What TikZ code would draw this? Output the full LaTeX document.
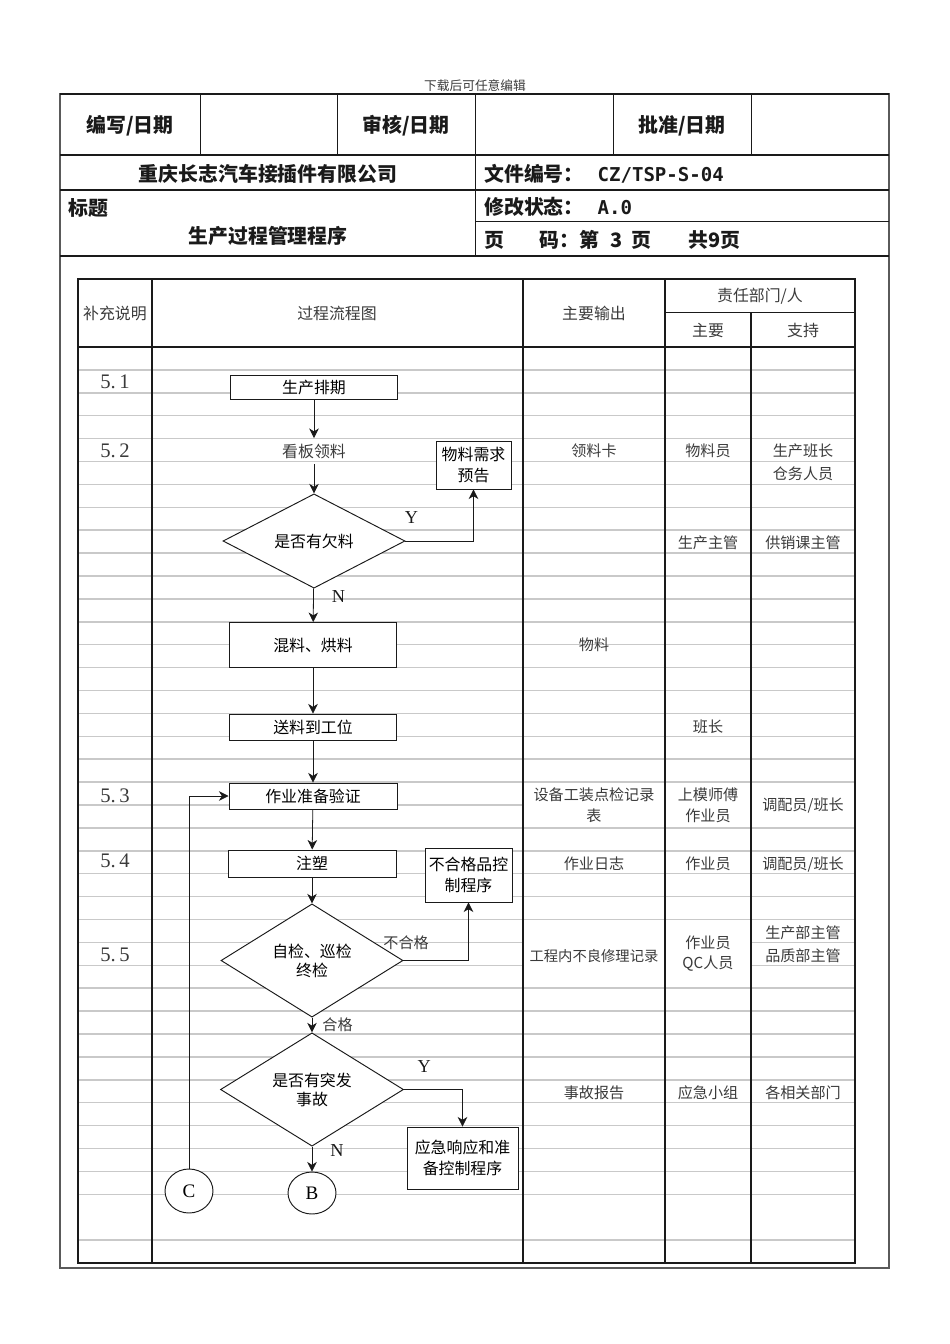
\documentclass[tikz,border=0pt]{standalone}
\usepackage{fontspec}
\usepackage{tikz}
\usetikzlibrary{shapes.geometric, arrows.meta, positioning}
\setmainfont{Liberation Serif}
\newfontfamily\cjk{Noto Sans CJK SC}
\newfontfamily\codefont{DejaVu Sans Mono}
\definecolor{darkink}{HTML}{1A1A1A}
\definecolor{softink}{HTML}{3A3A3A}
\definecolor{rowline}{HTML}{C9C9C9}
\definecolor{frameink}{HTML}{5A5A5A}
\newcommand{\pu}{0.02211cm}
\tikzset{
  headtext/.style={font=\cjk\bfseries\fontsize{12.5}{15}\selectfont, text=darkink},
  colhead/.style={font=\cjk\fontsize{10}{13}\selectfont, text=softink},
  cellnote/.style={font=\cjk\fontsize{9.5}{13}\selectfont, text=softink, align=center},
  secnum/.style={font=\fontsize{13}{15}\selectfont, text=softink},
  procbox/.style={draw=darkink, line width=0.6pt, fill=white, align=center,
    font=\cjk\fontsize{10}{13}\selectfont, inner sep=1pt},
  decision/.style={diamond, draw=darkink, line width=0.6pt, fill=white, align=center,
    font=\cjk\fontsize{10}{12}\selectfont, inner sep=0pt},
  offpage/.style={ellipse, draw=darkink, line width=0.6pt, fill=white,
    font=\fontsize{12}{14}\selectfont, inner sep=0pt},
  flowarrow/.style={draw=darkink, line width=0.5pt, -{Stealth[length=6pt, width=6pt, inset=1.8pt]}},
  branch/.style={font=\fontsize{11.5}{13}\selectfont, text=darkink},
  branchcn/.style={font=\cjk\fontsize{9.5}{12}\selectfont, text=softink},
  rowrule/.style={rowline, line width=0.9pt},
}

\begin{document}
\begin{tikzpicture}[x=\pu, y=-\pu]
  \useasboundingbox (0,0) rectangle (950,1344);
  % note above the sheet
  \node[font=\cjk\fontsize{8}{10}\selectfont, text=softink] (note) at (475,86) {下载后可任意编辑};
  % sheet frame and header grid
  \draw[frameink, line width=0.9pt] (60,94) rectangle (889,1268);
  \draw[darkink, line width=0.9pt] (60,94) -- (889,94) (60,155) -- (889,155) (60,190) -- (889,190) (60,256) -- (889,256);
  \draw[darkink, line width=0.6pt] (475,221) -- (889,221);
  \foreach \x in {200,337,475,613,751}
    \draw[darkink, line width=0.6pt] (\x,94) -- (\x,155);
  \draw[darkink, line width=0.6pt] (475,155) -- (475,256);
  % header texts
  \node[headtext] (wrt) at (130,126) {编写/日期};
  \node[headtext] (chk) at (406,126) {审核/日期};
  \node[headtext] (apv) at (682,126) {批准/日期};
  \node[headtext] (firm) at (268,174) {重庆长志汽车接插件有限公司};
  \node[headtext, anchor=west, inner sep=0pt] (docno) at (484,174) {文件编号：\hspace{0.7em}{\codefont\fontsize{12}{15}\selectfont CZ/TSP-S-04}};
  \node[headtext, anchor=west, inner sep=0pt] (rev) at (484,207) {修改状态：\hspace{0.7em}{\codefont\fontsize{12}{15}\selectfont A.0}};
  \node[headtext, anchor=west, inner sep=0pt] (pg) at (484,240) {页\hspace{1.8em}码：第\hspace{0.55em}3\hspace{0.45em}页\hspace{1.85em}共9页};
  \node[headtext, anchor=west, inner sep=0pt] (ttl) at (68,208) {标题};
  \node[headtext] (ttlname) at (268,236) {生产过程管理程序};
  % rows of the flow table
  \foreach \k in {1,...,37}
    \draw[rowrule] (78,{347+22.9*\k}) -- (523,{347+22.9*\k});
  \foreach \k in {1,...,19}
    \draw[rowrule] (523,{347+22.9*\k}) -- (855,{347+22.9*\k});
  \foreach \k in {21,...,25}
    \draw[rowrule] (523,{347+22.9*\k}) -- (855,{347+22.9*\k});
  \foreach \k in {26,27}
    \draw[rowrule] (751,{347+22.9*\k}) -- (855,{347+22.9*\k});
  \foreach \k in {28,...,37}
    \draw[rowrule] (523,{347+22.9*\k}) -- (855,{347+22.9*\k});
  \draw[rowrule] (78,1240) -- (855,1240);
  % table frame and columns
  \draw[darkink, line width=0.9pt] (78,279) rectangle (855,1263);
  \draw[darkink, line width=0.9pt] (78,347) -- (855,347);
  \draw[darkink, line width=0.6pt] (665,312) -- (855,312);
  \foreach \x in {152,523,665}
    \draw[darkink, line width=0.8pt] (\x,279) -- (\x,1263);
  \draw[darkink, line width=0.8pt] (751,312) -- (751,1263);
  % column heads
  \node[colhead] (hnote) at (115,313) {补充说明};
  \node[colhead] (hflow) at (337,313) {过程流程图};
  \node[colhead] (hout) at (594,313) {主要输出};
  \node[colhead] (hresp) at (760,296) {责任部门/人};
  \node[colhead] (hmain) at (708,330) {主要};
  \node[colhead] (hsup) at (803,330) {支持};
  % section numbers
  \node[secnum] (s51) at (115,382) {5.\,1};
  \node[secnum] (s52) at (115,451) {5.\,2};
  \node[secnum] (s53) at (115,796) {5.\,3};
  \node[secnum] (s54) at (115,861) {5.\,4};
  \node[secnum] (s55) at (115,955) {5.\,5};
  % outputs and owners
  \node[cellnote] (out52) at (594,451) {领料卡};
  \node[cellnote] (own52) at (708,451) {物料员};
  \node[cellnote] (sup52) at (803,451) {生产班长};
  \node[cellnote] (sup52b) at (803,474) {仓务人员};
  \node[cellnote] (ownshort) at (708,543) {生产主管};
  \node[cellnote] (supshort) at (803,543) {供销课主管};
  \node[cellnote] (outmix) at (594,645) {物料};
  \node[cellnote] (ownfeed) at (708,727) {班长};
  \node[cellnote] (out53) at (594,805.5) {设备工装点检记录\\表};
  \node[cellnote] (own53) at (708,805.5) {上模师傅\\作业员};
  \node[cellnote] (sup53) at (803,805) {调配员/班长};
  \node[cellnote] (out54) at (594,864) {作业日志};
  \node[cellnote] (own54) at (708,864) {作业员};
  \node[cellnote] (sup54) at (803,864) {调配员/班长};
  \node[cellnote, font=\cjk\fontsize{9}{12}\selectfont] (out55) at (594,956) {工程内不良修理记录};
  \node[cellnote] (own55) at (708,953.5) {作业员\\QC人员};
  \node[cellnote] (sup55) at (803,933) {生产部主管};
  \node[cellnote] (sup55b) at (803,956) {品质部主管};
  \node[cellnote] (out56) at (594,1093) {事故报告};
  \node[cellnote] (own56) at (708,1093) {应急小组};
  \node[cellnote] (sup56) at (803,1093) {各相关部门};
  % flow
  \node[procbox, minimum width=167*\pu, minimum height=24*\pu] (sched) at (314,387) {生产排期};
  \node[font=\cjk\fontsize{10}{13}\selectfont, text=softink] (kanban) at (314,451) {看板领料};
  \node[decision, minimum width=182*\pu, minimum height=68*\pu] (short) at (314,541) {是否有欠料};
  \node[procbox, minimum width=75*\pu, minimum height=48*\pu] (demand) at (473.5,465) {物料需求\\预告};
  \node[procbox, minimum width=167*\pu, minimum height=45*\pu] (mix) at (313,645) {混料、烘料};
  \node[procbox, minimum width=167*\pu, minimum height=26*\pu] (feed) at (313,727) {送料到工位};
  \node[procbox, minimum width=168*\pu, minimum height=26*\pu] (prep) at (313,796) {作业准备验证};
  \node[procbox, minimum width=168*\pu, minimum height=27*\pu] (mold) at (312,863.5) {注塑};
  \node[procbox, minimum width=87*\pu, minimum height=54*\pu] (reject) at (468.5,875) {不合格品控\\制程序};
  \node[decision, minimum width=182*\pu, minimum height=79*\pu] (inspect) at (312,960.5) {自检、巡检\\终检};
  \node[decision, minimum width=183*\pu, minimum height=81*\pu] (incident) at (312,1089.5) {是否有突发\\事故};
  \node[procbox, minimum width=111*\pu, minimum height=62*\pu] (emerg) at (462.5,1158) {应急响应和准\\备控制程序};
  \node[offpage, minimum width=48*\pu, minimum height=42*\pu] (nodeB) at (312,1193) {B};
  \node[offpage, minimum width=48*\pu, minimum height=44*\pu] (nodeC) at (189,1191) {C};
  % connectors
  \draw[flowarrow] (sched) -- (kanban);
  \draw[flowarrow] (kanban) -- (short);
  \draw[flowarrow] (short.east) -| node[branch, pos=0.044, above=7.4pt] {Y} (demand.south);
  \draw[flowarrow] (short) -- node[branch, pos=0.25, right=8pt] {N} (mix);
  \draw[flowarrow] (mix) -- (feed);
  \draw[flowarrow] (feed) -- (prep);
  \draw[flowarrow] (prep) -- (mold);
  \draw[flowarrow] (mold) -- (inspect);
  \draw[flowarrow] (inspect.east) -| node[branchcn, pos=0.02, above=3.5pt] {不合格} (reject.south);
  \draw[flowarrow] (inspect) -- node[branchcn, pos=0.5, right=3pt] {合格} (incident);
  \draw[flowarrow] (incident.east) -| node[branch, pos=0.174, above=7.2pt] {Y} (emerg.north);
  \draw[flowarrow] (incident) -- node[branch, pos=0.14, right=8pt] {N} (nodeB);
  \draw[flowarrow] (nodeC.north) |- (prep.west);
\end{tikzpicture}
\end{document}
